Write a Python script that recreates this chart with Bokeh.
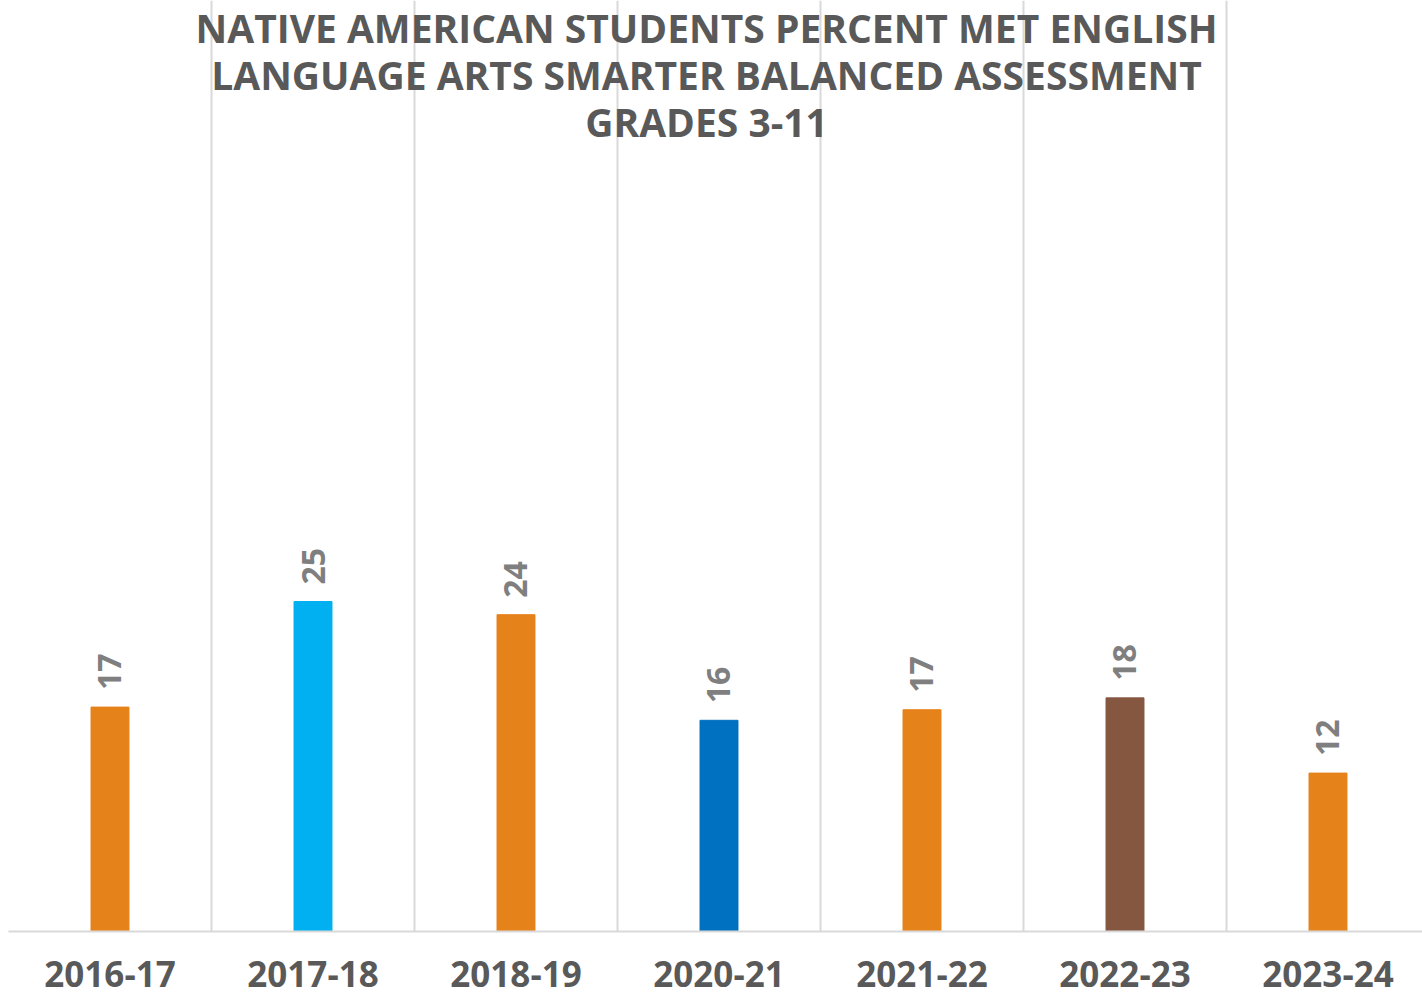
import math
from bokeh.plotting import figure
from bokeh.models import ColumnDataSource, FixedTicker, LabelSet, Label, Range1d
from bokeh.core.properties import value
from bokeh.embed import file_html
from bokeh.resources import INLINE

years = ["2016-17", "2017-18", "2018-19", "2020-21", "2021-22", "2022-23", "2023-24"]
values = [17, 25, 24, 16, 16.8, 17.7, 12]
value_labels = ["17", "25", "24", "16", "17", "18", "12"]
colors = ["#E6821A", "#00B0F0", "#E6821A", "#0070C0", "#E6821A", "#855640", "#E6821A"]
title_lines = ["NATIVE AMERICAN STUDENTS PERCENT MET ENGLISH",
               "LANGUAGE ARTS SMARTER BALANCED ASSESSMENT",
               "GRADES 3-11"]

xs = [i + 0.5 for i in range(len(years))]
src = ColumnDataSource(dict(x=xs, top=values, lab=value_labels, color=colors))

p = figure(frame_width=1414, frame_height=931, output_backend="svg",
           toolbar_location=None, min_border_left=8, min_border_right=0,
           min_border_top=0, min_border_bottom=70,
           x_range=Range1d(0, 1414 / 203), y_range=Range1d(0, 931 / 13.2))
p.outline_line_color = None
p.background_fill_color = "white"
p.border_fill_color = "white"

p.vbar(x="x", top="top", bottom=0, width=0.187, color="color", source=src)

labels = LabelSet(x="x", y="top", text="lab", source=src, angle=math.pi / 2,
                  text_align="left", text_baseline="middle", y_offset=17,
                  text_font=value("Open Sans"), text_font_style="bold",
                  text_font_size=value("32px"), text_color="#7F7F7F")
p.add_layout(labels)

p.yaxis.visible = False
p.ygrid.visible = False
p.xgrid.ticker = FixedTicker(ticks=list(range(len(years) + 1)))
p.xgrid.grid_line_color = "#D9D9D9"
p.xgrid.grid_line_width = 2

p.xaxis.ticker = FixedTicker(ticks=xs)
p.xaxis.major_label_overrides = {x: y for x, y in zip(xs, years)}
p.xaxis.major_tick_line_color = None
p.xaxis.minor_tick_line_color = None
p.xaxis.axis_line_color = "#D9D9D9"
p.xaxis.axis_line_width = 2
p.xaxis.major_label_text_font = "Open Sans"
p.xaxis.major_label_text_font_style = "bold"
p.xaxis.major_label_text_font_size = "35px"
p.xaxis.major_label_standoff = 23
p.xaxis.major_label_text_color = "#595959"

for i, line in enumerate(title_lines):
    p.add_layout(Label(x=706 - 8, y=904 - 47 * i, x_units="screen", y_units="screen",
                       text=line, text_align="center", text_baseline="alphabetic",
                       text_font="Open Sans", text_font_style="bold",
                       text_font_size="39px", text_color="#595959"))

open("out.html", "w").write(file_html(p, INLINE))
